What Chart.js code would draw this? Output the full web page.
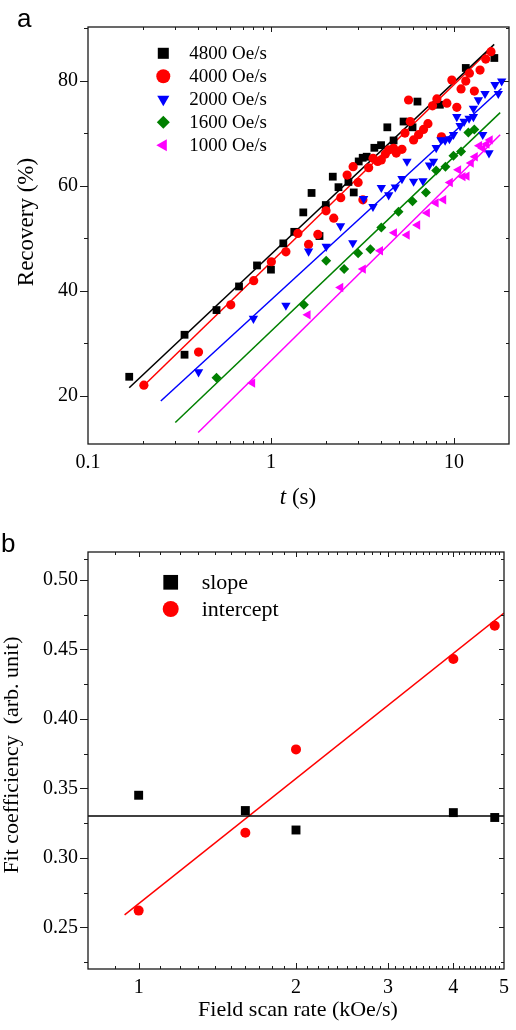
<!DOCTYPE html>
<html lang="en">
<head>
<meta charset="UTF-8">
<title>Recovery and fit coefficients</title>
<script src="https://cdn.jsdelivr.net/npm/chart.js"></script>
<style>
    body { margin: 0; background: #fff; }
    .panel { position: absolute; left: 0; width: 516px; }
    #panelA { top: 0; height: 520px; }
    #panelB { top: 520px; height: 510px; }
</style>
</head>
<body>
<div class="panel" id="panelA"><canvas id="recoveryChart"></canvas></div>
<div class="panel" id="panelB"><canvas id="fitChart"></canvas></div>
<script>
// ---------- panel a: recovery vs time ----------
const rateLabels = ['4800 Oe/s', '4000 Oe/s', '2000 Oe/s', '1600 Oe/s', '1000 Oe/s'];

const t4800 = [0.168, 0.337, 0.337, 0.504, 0.669, 0.839, 1.0, 1.168, 1.341, 1.502, 1.667, 1.842, 1.994, 2.177, 2.339,
               2.651, 2.834, 3.017, 3.172, 3.336, 3.674, 3.997, 4.325, 4.68, 5.306, 5.94, 6.32, 8.38, 11.61, 16.63];
const r4800 = [23.6, 31.6, 27.8, 36.3, 40.8, 44.8, 44.0, 49.0, 51.2, 54.9, 58.6, 50.4, 56.3, 61.7, 59.7,
               60.7, 58.7, 64.6, 65.3, 65.5, 67.2, 67.7, 71.1, 68.6, 72.2, 71.1, 76.0, 75.4, 82.4, 84.3];

const t4000 = [0.202, 0.402, 0.603, 0.805, 1.005, 1.207, 1.403, 1.605, 1.804, 2.0, 2.204, 2.407, 2.608, 2.812, 2.995,
               3.18, 3.42, 3.614, 3.83, 4.01, 4.22, 4.40, 4.68, 4.84, 5.20, 5.40, 5.65, 5.77, 6.02, 6.41,
               6.82, 7.21, 7.64, 8.07, 8.55, 9.15, 9.74, 10.37, 10.94, 11.61, 12.15, 12.93, 13.89, 14.92, 15.95];
const r4000 = [22.0, 28.3, 37.3, 41.9, 45.5, 47.4, 50.9, 48.8, 50.7, 55.2, 53.8, 57.7, 62.0, 63.6, 60.6,
               57.3, 63.4, 65.2, 64.6, 64.9, 66.0, 66.8, 67.1, 66.2, 66.9, 70.0, 76.3, 72.2, 68.7, 69.7,
               70.7, 71.8, 75.2, 76.5, 69.3, 75.7, 80.1, 74.9, 78.4, 79.9, 81.4, 78.0, 82.0, 84.1, 85.5];

const t2000 = [0.402, 0.802, 1.207, 1.605, 2.004, 2.40, 2.80, 3.21, 3.61, 4.01, 4.40, 4.78, 5.20, 5.54, 6.02, 6.77,
               7.35, 7.73, 8.0, 8.49, 8.95, 9.45, 9.94, 10.37, 10.81, 11.36, 12.1, 12.78, 12.78, 13.6, 14.37,
               14.79, 15.55, 16.77, 17.48, 18.24];
const r2000 = [24.5, 34.7, 37.2, 47.5, 48.4, 52.3, 49.1, 57.5, 56.0, 59.6, 58.2, 59.7, 61.3, 64.6, 60.8, 60.9,
               63.9, 64.6, 67.2, 68.7, 68.6, 68.9, 69.7, 73.1, 71.4, 72.2, 72.8, 74.7, 73.1, 76.3, 69.7,
               77.5, 66.2, 79.2, 77.5, 79.9];

const t1600 = [0.504, 1.513, 2.004, 2.512, 2.995, 3.494, 4.01, 4.98, 5.94, 7.03, 8.0, 8.99, 9.94, 10.94, 11.99, 12.93];
const r1600 = [23.4, 37.3, 45.7, 44.1, 47.1, 47.9, 52.0, 55.0, 57.0, 58.7, 62.9, 63.6, 65.7, 66.5, 70.1, 70.7];

const t1000 = [0.792, 1.591, 2.40, 3.19, 3.96, 4.72, 5.54, 6.32, 7.14, 7.97, 8.77, 9.53, 10.58, 11.18, 11.76,
               12.41, 13.05, 13.77, 14.37, 15.11, 15.75];
const r1000 = [22.4, 35.4, 40.6, 44.1, 47.6, 51.0, 50.6, 52.5, 54.8, 56.7, 57.3, 60.6, 63.0, 61.7, 61.8,
               64.3, 65.5, 67.6, 67.1, 67.9, 68.7];

// fitted lines, start and end points
const fitT4800 = [0.168, 16.6], fitR4800 = [21.5, 86.9];
const fitT4000 = [0.21, 16.1],  fitR4000 = [22.5, 86.2];
const fitT2000 = [0.25, 18.2],  fitR2000 = [19.0, 78.5];
const fitT1600 = [0.30, 17.9],  fitR1600 = [14.9, 73.9];
const fitT1000 = [0.40, 17.9],  fitR1000 = [13.0, 69.7];

const tTicks = [0.1, 1, 10];
const recoveryTicks = [20, 40, 60, 80];

// ---------- panel b: fit coefficients vs field scan rate ----------
const coefLabels = ['slope', 'intercept'];
const scanRates = [1, 1.6, 2, 4, 4.8];
const slopes = [0.345, 0.334, 0.320, 0.3325, 0.329];
const intercepts = [0.262, 0.318, 0.378, 0.443, 0.467];
const slopeFitRate = [0.8, 5], slopeFitVal = [0.330, 0.330];
const interceptFitRate = [0.94, 5], interceptFitVal = [0.259, 0.476];

const rateTicks = [1, 2, 3, 4, 5];
const coefTicks = [0.25, 0.30, 0.35, 0.40, 0.45, 0.50];

const SERIF = '"Liberation Serif", "Times New Roman", serif';
const pts = (xs, ys) => xs.map((x, i) => ({ x: x, y: ys[i] }));

function range(a, b, step) {
    const out = [];
    for (let v = a; v <= b + 1e-9; v += step) out.push(+v.toFixed(4));
    return out;
}

// box around the plot with Origin style ticks on all four sides
const framePlugin = {
    id: 'frame',
    afterDraw(chart, args, o) {
        const { ctx, chartArea: { left, right, top, bottom }, scales: { x, y } } = chart;
        ctx.save();
        ctx.strokeStyle = '#1a1a1a';
        ctx.lineWidth = 1.3;
        ctx.strokeRect(left, top, right - left, bottom - top);
        ctx.lineWidth = 1;
        ctx.beginPath();
        o.yMajor.forEach(v => {
            const p = Math.round(y.getPixelForValue(v)) + 0.5;
            ctx.moveTo(left - 8, p); ctx.lineTo(left, p);
            ctx.moveTo(right - 5, p); ctx.lineTo(right, p);
        });
        o.yMinor.forEach(v => {
            const p = Math.round(y.getPixelForValue(v)) + 0.5;
            if (p <= top + 1 || p >= bottom - 1) return;
            ctx.moveTo(left - 4, p); ctx.lineTo(left, p);
            ctx.moveTo(right - 3, p); ctx.lineTo(right, p);
        });
        o.xMajor.forEach(v => {
            const p = Math.round(x.getPixelForValue(v)) + 0.5;
            if (p <= left + 1 || p >= right - 1) return;
            ctx.moveTo(p, bottom); ctx.lineTo(p, bottom - 6);
            ctx.moveTo(p, top); ctx.lineTo(p, top + 5);
        });
        o.xMinor.forEach(v => {
            const p = Math.round(x.getPixelForValue(v)) + 0.5;
            if (p <= left + 1 || p >= right - 1) return;
            ctx.moveTo(p, bottom); ctx.lineTo(p, bottom - 3);
            ctx.moveTo(p, top); ctx.lineTo(p, top + 3);
        });
        ctx.stroke();
        ctx.restore();
    }
};

// axis titles, panel letter and the in-plot legend
const textPlugin = {
    id: 'texts',
    afterDraw(chart, args, o) {
        const ctx = chart.ctx;
        ctx.save();
        ctx.fillStyle = '#000';
        ctx.textBaseline = 'alphabetic';
        ctx.textAlign = 'left';
        ctx.font = '26px "Liberation Sans", Arial, sans-serif';
        ctx.fillText(o.letter, o.letterX, o.letterY);

        // y title
        ctx.save();
        ctx.translate(o.yTitleX, o.yTitleY);
        ctx.rotate(-Math.PI / 2);
        ctx.font = o.titleSize + 'px ' + SERIF;
        ctx.textAlign = 'center';
        ctx.textBaseline = 'middle';
        ctx.fillText(o.yTitle, 0, 0);
        ctx.restore();

        // x title, italic part first
        ctx.textBaseline = 'middle';
        ctx.font = 'italic ' + o.titleSize + 'px ' + SERIF;
        const w1 = ctx.measureText(o.xTitleItalic).width;
        ctx.font = o.titleSize + 'px ' + SERIF;
        const w2 = ctx.measureText(o.xTitle).width;
        let sx = o.xTitleX - (w1 + w2) / 2;
        ctx.font = 'italic ' + o.titleSize + 'px ' + SERIF;
        ctx.fillText(o.xTitleItalic, sx, o.xTitleY);
        ctx.font = o.titleSize + 'px ' + SERIF;
        ctx.fillText(o.xTitle, sx + w1, o.xTitleY);

        // legend
        ctx.font = o.legendSize + 'px ' + SERIF;
        chart.data.datasets.filter(d => !d.isFit).forEach((d, i) => {
            const ly = o.legendY + i * o.legendGap;
            ctx.fillStyle = d.backgroundColor;
            Chart.helpers.drawPoint(ctx, {
                pointStyle: d.pointStyle, rotation: d.rotation || 0,
                radius: o.legendRadius[d.pointStyle] || 7, borderWidth: 0
            }, o.legendX, ly);
            ctx.fillStyle = '#000';
            ctx.fillText(d.label, o.legendTextX, ly + 1);
        });
        ctx.restore();
    }
};

function markers(label, xs, ys, color, style, radius, rotation, order) {
    return {
        label: label, data: pts(xs, ys), backgroundColor: color, borderColor: color,
        pointStyle: style, rotation: rotation, pointRadius: radius, pointBorderWidth: 0,
        showLine: false, order: order
    };
}
function fitLine(xs, ys, color) {
    return {
        label: '', isFit: true, data: pts(xs, ys), borderColor: color, backgroundColor: color,
        borderWidth: 1.5, pointRadius: 0, showLine: true, order: 10
    };
}

const tickFont = { family: SERIF, size: 20 };

new Chart(document.getElementById('recoveryChart'), {
    type: 'scatter',
    data: {
        datasets: [
            fitLine(fitT4800, fitR4800, '#000000'),
            fitLine(fitT4000, fitR4000, '#ff0000'),
            fitLine(fitT2000, fitR2000, '#0000ff'),
            fitLine(fitT1600, fitR1600, '#008000'),
            fitLine(fitT1000, fitR1000, '#ff00ff'),
            markers(rateLabels[0], t4800, r4800, '#000000', 'rect', 5.5, 0, 5),
            markers(rateLabels[1], t4000, r4000, '#ff0000', 'circle', 4.6, 0, 4),
            markers(rateLabels[2], t2000, r2000, '#0000ff', 'triangle', 5.4, 180, 3),
            markers(rateLabels[3], t1600, r1600, '#008000', 'rectRot', 5, 0, 2),
            markers(rateLabels[4], t1000, r1000, '#ff00ff', 'triangle', 5.4, 270, 1)
        ]
    },
    options: {
        responsive: true,
        maintainAspectRatio: false,
        animation: false,
        events: [],
        layout: { padding: { top: 27, right: 7, left: 0, bottom: 0 } },
        scales: {
            x: {
                type: 'logarithmic', min: 0.1, max: 20,
                grid: { display: false, drawTicks: false }, border: { display: false },
                afterBuildTicks: s => { s.ticks = tTicks.map(v => ({ value: v })); },
                afterFit: s => { s.height = 76; },
                ticks: { font: tickFont, color: '#000', padding: 7, maxRotation: 0, autoSkip: false,
                         callback: v => String(v) }
            },
            y: {
                type: 'linear', min: 10.8, max: 90.2,
                grid: { display: false, drawTicks: false }, border: { display: false },
                afterBuildTicks: s => { s.ticks = recoveryTicks.map(v => ({ value: v })); },
                afterFit: s => { s.width = 88; },
                ticks: { font: tickFont, color: '#000', padding: 10, callback: v => String(v) }
            }
        },
        plugins: {
            legend: { display: false },
            tooltip: { enabled: false },
            frame: {
                xMajor: tTicks,
                xMinor: range(0.2, 0.9, 0.1).concat(range(2, 9, 1)),
                yMajor: recoveryTicks,
                yMinor: [30, 50, 70, 90]
            },
            texts: {
                letter: 'a', letterX: 17, letterY: 27,
                yTitle: 'Recovery (%)', yTitleX: 26.5, yTitleY: 222,
                xTitleItalic: 't', xTitle: ' (s)', xTitleX: 298, xTitleY: 498,
                titleSize: 23,
                legendX: 163.3, legendY: 53.3, legendGap: 23, legendTextX: 189.3, legendSize: 19,
                legendRadius: { rect: 7.8, circle: 7, triangle: 7, rectRot: 6.5 }
            }
        }
    },
    plugins: [framePlugin, textPlugin]
});

new Chart(document.getElementById('fitChart'), {
    type: 'scatter',
    data: {
        datasets: [
            fitLine(slopeFitRate, slopeFitVal, '#000000'),
            fitLine(interceptFitRate, interceptFitVal, '#ff0000'),
            markers(coefLabels[0], scanRates, slopes, '#000000', 'rect', 6.3, 0, 2),
            markers(coefLabels[1], scanRates, intercepts, '#ff0000', 'circle', 5, 0, 1)
        ]
    },
    options: {
        responsive: true,
        maintainAspectRatio: false,
        animation: false,
        events: [],
        layout: { padding: { top: 32, right: 7, left: 0, bottom: 0 } },
        scales: {
            x: {
                type: 'logarithmic', min: 0.8, max: 5,
                grid: { display: false, drawTicks: false }, border: { display: false },
                afterBuildTicks: s => { s.ticks = rateTicks.map(v => ({ value: v })); },
                afterFit: s => { s.height = 61; },
                ticks: { font: tickFont, color: '#000', padding: 7, maxRotation: 0, autoSkip: false,
                         callback: v => String(v) }
            },
            y: {
                type: 'linear', min: 0.22, max: 0.52,
                grid: { display: false, drawTicks: false }, border: { display: false },
                afterBuildTicks: s => { s.ticks = coefTicks.map(v => ({ value: v })); },
                afterFit: s => { s.width = 88; },
                ticks: { font: tickFont, color: '#000', padding: 10, callback: v => v.toFixed(2) }
            }
        },
        plugins: {
            legend: { display: false },
            tooltip: { enabled: false },
            frame: {
                xMajor: rateTicks,
                xMinor: [0.9].concat(range(1.1, 1.9, 0.1), range(2.1, 2.9, 0.1), range(3.1, 3.9, 0.1), range(4.1, 4.9, 0.1)),
                yMajor: coefTicks,
                yMinor: [0.225, 0.275, 0.325, 0.375, 0.425, 0.475, 0.515]
            },
            texts: {
                letter: 'b', letterX: 1, letterY: 32,
                yTitle: 'Fit coefficiency  (arb. unit)', yTitleX: 12.5, yTitleY: 235,
                xTitleItalic: '', xTitle: 'Field scan rate (kOe/s)', xTitleX: 298, xTitleY: 490,
                titleSize: 22,
                legendX: 170.7, legendY: 62.3, legendGap: 26.7, legendTextX: 201.7, legendSize: 22,
                legendRadius: { rect: 10.4, circle: 8 }
            }
        }
    },
    plugins: [framePlugin, textPlugin]
});
</script>
</body>
</html>
